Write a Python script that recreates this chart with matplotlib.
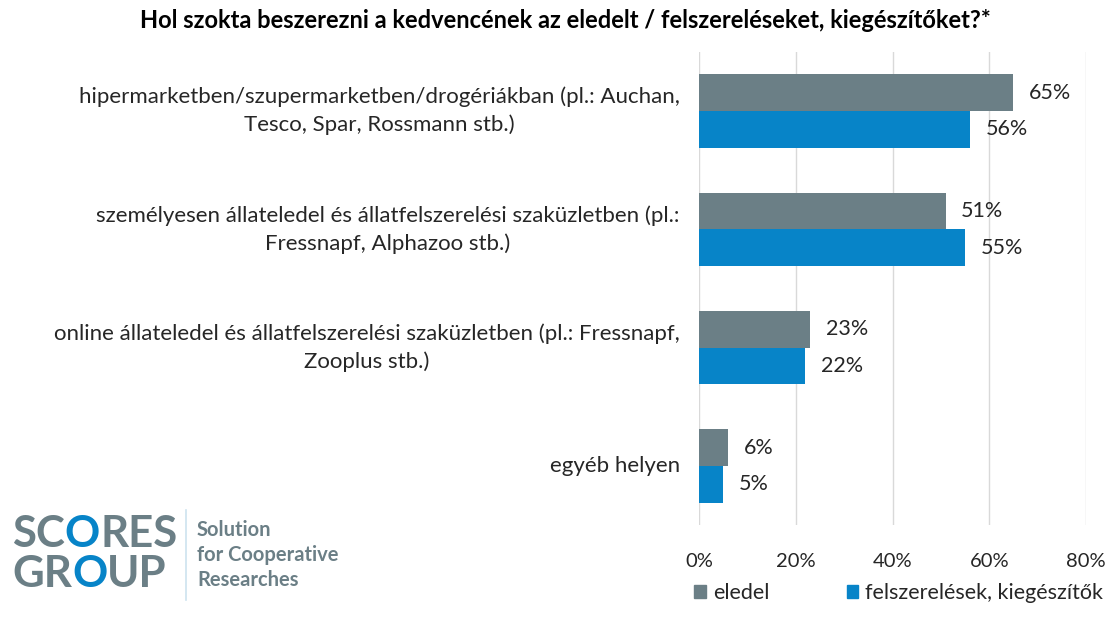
import numpy as np
import matplotlib.pyplot as plt
from matplotlib.patches import Rectangle
from matplotlib.lines import Line2D
import matplotlib.transforms as mtransforms

# data
categories = [
    "hipermarketben/szupermarketben/drogériákban (pl.: Auchan,\nTesco, Spar, Rossmann stb.)",
    "személyesen állateledel és állatfelszerelési szaküzletben (pl.:\nFressnapf, Alphazoo stb.)",
    "online állateledel és állatfelszerelési szaküzletben (pl.: Fressnapf,\nZooplus stb.)",
    "egyéb helyen",
]
eledel = [65, 51, 23, 6]
felszereles = [56, 55, 22, 5]
series_names = ["eledel", "felszerelések, kiegészítők"]
xticks = [0, 20, 40, 60, 80]

GREY = "#6b7f86"
BLUE = "#0784c8"
TXT = "#262626"
FONT = "Lato"

plt.rcParams['font.family'] = [FONT, 'DejaVu Sans']

fig = plt.figure(figsize=(11.2, 6.17), dpi=100)
ax = fig.add_axes([699 / 1120, 1 - 525 / 617, (1086 - 699) / 1120, (525 - 52) / 617])

y = np.arange(len(categories))
h = 0.31
b1 = ax.barh(y - h / 2, eledel, height=h, color=GREY, zorder=3)
b2 = ax.barh(y + h / 2, felszereles, height=h, color=BLUE, zorder=3)

for bars, vals in ((b1, eledel), (b2, felszereles)):
    for bar, v in zip(bars, vals):
        ax.text(v + 3.2, bar.get_y() + bar.get_height() / 2, f"{v}%",
                va='center', ha='left', fontsize=15.5, color=TXT)

ax.set_xlim(0, 80)
ax.set_ylim(len(categories) - 0.5, -0.5)
ax.set_xticks(xticks)
ax.set_xticklabels([f"{t}%" for t in xticks], fontsize=14.5, color=TXT)
ax.tick_params(axis='x', length=0, pad=20)
ax.set_yticks([])
ax.grid(axis='x', color='#d9d9d9', linewidth=1, zorder=0)
for s in ax.spines.values():
    s.set_visible(False)

# category labels, right aligned, lines centred
trans = mtransforms.blended_transform_factory(ax.transAxes, ax.transData)
for yi, lab in zip(y, categories):
    ax.text(-0.05, yi, lab, transform=trans, ha='right', va='center',
            multialignment='center', fontsize=16, color=TXT, linespacing=1.45)

fig.text(0.505, 1 - 21 / 617, "Hol szokta beszerezni a kedvencének az eledelt / felszereléseket, kiegészítőket?*",
         ha='center', va='center', fontsize=17, fontweight='bold', color='black')

# legend
handles = [Rectangle((0, 0), 1, 1, color=GREY), Rectangle((0, 0), 1, 1, color=BLUE)]
fig.legend(handles, series_names, loc='center left', bbox_to_anchor=(675 / 1120, 1 - 593 / 617),
           ncol=2, frameon=False, fontsize=15.5, handlelength=0.55, handleheight=0.55,
           handletextpad=0.3, columnspacing=3.6, labelcolor=TXT)

# logo
lx, ly1, ly2 = 12 / 1120, 1 - 554 / 617, 1 - 594 / 617
parts1 = [("SC", GREY), ("O", BLUE), ("RES", GREY)]
parts2 = [("GR", GREY), ("O", BLUE), ("UP", GREY)]
for parts, yy in ((parts1, ly1), (parts2, ly2)):
    prev = None
    for s, c in parts:
        kw = dict(fontsize=31.5, fontweight='bold', color=c, va='bottom', ha='left')
        if prev is None:
            prev = fig.text(lx, yy, s, **kw)
        else:
            prev = ax.annotate(s, xy=(1, 0), xycoords=prev, annotation_clip=False, **kw)
fig.add_artist(Line2D([186 / 1120, 186 / 1120], [1 - 510 / 617, 1 - 600 / 617],
                      color='#cde3ef', linewidth=1.2))
for i, s in enumerate(["Solution", "for Cooperative", "Researches"]):
    fig.text(197 / 1120, 1 - (530 + i * 25) / 617, s, fontsize=14.5, fontweight='bold',
             color=GREY, va='center', ha='left')

fig.savefig("out.png", dpi=100)
